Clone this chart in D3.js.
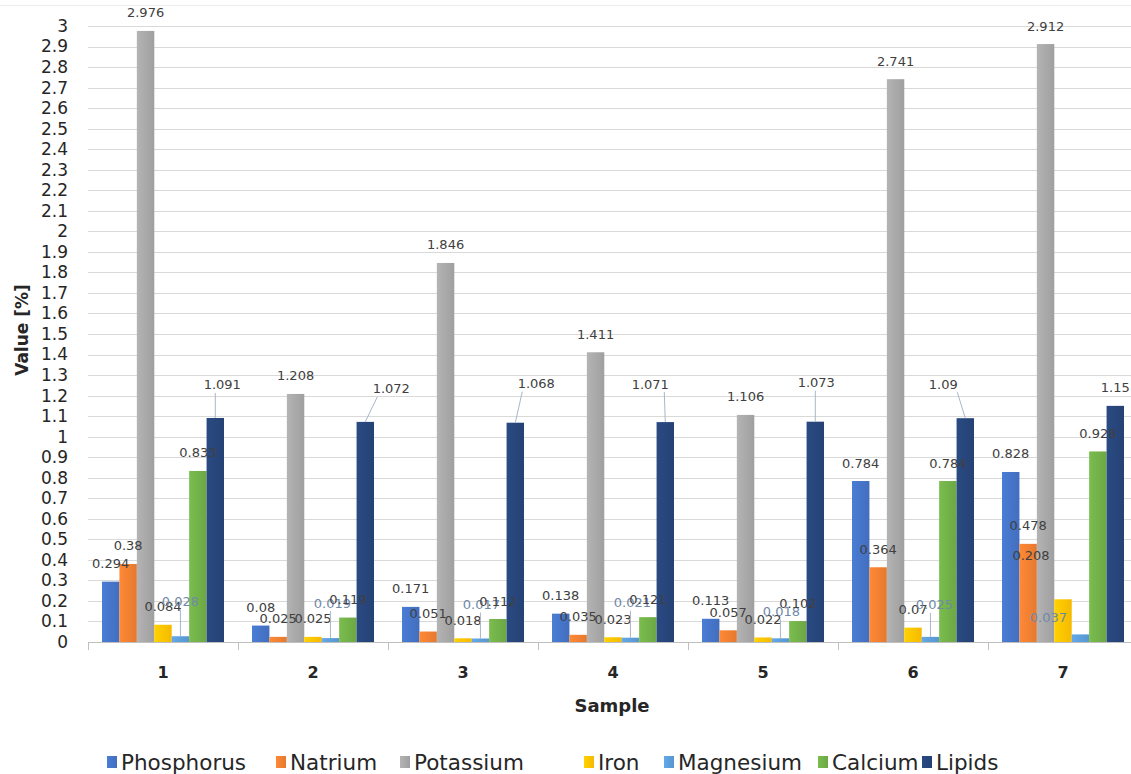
<!DOCTYPE html>
<html>
<head>
<meta charset="utf-8">
<script src="https://cdn.jsdelivr.net/npm/d3@7"></script>
<style>
  html, body { margin: 0; padding: 0; background: #fff; }
  svg { display: block; font-family: "DejaVu Sans", sans-serif; }
</style>
</head>
<body>
<svg id="chart" width="1131" height="774"></svg>
<script>
// Samples and measured contents (%)
const samples = ["1", "2", "3", "4", "5", "6", "7"];
const seriesNames = ["Phosphorus", "Natrium", "Potassium", "Iron", "Magnesium", "Calcium", "Lipids"];
const phosphorus = [0.294, 0.08, 0.171, 0.138, 0.113, 0.784, 0.828];
const natrium    = [0.38, 0.025, 0.051, 0.035, 0.057, 0.364, 0.478];
const potassium  = [2.976, 1.208, 1.846, 1.411, 1.106, 2.741, 2.912];
const iron       = [0.084, 0.025, 0.018, 0.023, 0.022, 0.07, 0.208];
const magnesium  = [0.028, 0.019, 0.017, 0.021, 0.018, 0.025, 0.037];
const calcium    = [0.833, 0.119, 0.112, 0.121, 0.102, 0.784, 0.928];
const lipids     = [1.091, 1.072, 1.068, 1.071, 1.073, 1.09, 1.15];
const yMax = 3;

const seriesValues = [phosphorus, natrium, potassium, iron, magnesium, calcium, lipids];
const colors = ["#4472C4", "#ED7D31", "#A5A5A5", "#FFC000", "#5B9BD5", "#70AD47", "#264478"];

// Labels moved off their default spot: [series, sample index, dx, dy, leader line]
const labelMoves = [
  [4, 0, 0, -35, true], [4, 1, 2, -35, true], [4, 2, 1, -34, true],
  [4, 3, 2, -35, true], [4, 4, 1, -27, true], [4, 5, 4, -32, true],
  [6, 0, 7, -33, true], [6, 1, 26, -33, true], [6, 2, 21, -39, true],
  [6, 3, -15, -38, true], [6, 4, 1, -39, true], [6, 5, -22, -34, true],
  [3, 6, -32, -44, false], [4, 6, -32, -17, false]
];

const svg = d3.select("#chart");
const W = 1131, H = 774;
const plot = { left: 88, right: 1138, top: 26, bottom: 642 };

svg.append("rect").attr("width", W).attr("height", H).attr("fill", "#fff");
svg.append("line").attr("x1", 0).attr("x2", W).attr("y1", 5.5).attr("y2", 5.5)
  .attr("stroke", "#ececec");

const x0 = d3.scaleBand().domain(samples).range([plot.left, plot.right]).padding(0);
const x1 = d3.scaleBand().domain(seriesNames).range([14, x0.bandwidth() - 14]).padding(0);
const y = d3.scaleLinear().domain([0, yMax]).range([plot.bottom, plot.top]);

// gradients for the bar fills
const defs = svg.append("defs");
seriesNames.forEach((s, i) => {
  const g = defs.append("linearGradient").attr("id", "grad" + i)
    .attr("x1", 0).attr("x2", 1).attr("y1", 0).attr("y2", 0);
  const c = d3.color(colors[i]);
  g.append("stop").attr("offset", "0%").attr("stop-color", c.brighter(0.25));
  g.append("stop").attr("offset", "100%").attr("stop-color", c.darker(0.1));
});

// horizontal gridlines
const yTicks = y.ticks(30);
svg.append("g").selectAll("line").data(yTicks.filter(d => d > 0)).join("line")
  .attr("x1", plot.left).attr("x2", plot.right)
  .attr("y1", d => Math.round(y(d)) + 0.5).attr("y2", d => Math.round(y(d)) + 0.5)
  .attr("stroke", "#d9d9d9").attr("stroke-width", 1);

// y axis labels
const yAxis = d3.axisLeft(y).tickValues(yTicks).tickFormat(d3.format("~g")).tickSize(0).tickPadding(0);
const yg = svg.append("g").attr("transform", `translate(${plot.left - 20},0)`).call(yAxis);
yg.select(".domain").remove();
yg.selectAll("text").attr("font-size", 17).attr("fill", "#262626")
  .attr("font-family", "DejaVu Sans, sans-serif");

// bars
const rows = [];
seriesNames.forEach((s, si) => {
  samples.forEach((smp, gi) => {
    rows.push({ s, si, gi, smp, v: seriesValues[si][gi] });
  });
});
svg.append("g").selectAll("rect").data(rows).join("rect")
  .attr("x", d => x0(d.smp) + x1(d.s))
  .attr("y", d => y(d.v))
  .attr("width", x1.bandwidth())
  .attr("height", d => y(0) - y(d.v))
  .attr("fill", d => `url(#grad${d.si})`);

// x axis line and ticks
const xAxisG = svg.append("g");
xAxisG.append("line").attr("x1", plot.left).attr("x2", plot.right)
  .attr("y1", plot.bottom + 0.5).attr("y2", plot.bottom + 0.5).attr("stroke", "#bfbfbf");
const bounds = samples.map(s => x0(s)).concat([plot.right]);
xAxisG.selectAll("line.tick").data(bounds).join("line").attr("class", "tick")
  .attr("x1", d => Math.round(d) + 0.5).attr("x2", d => Math.round(d) + 0.5)
  .attr("y1", plot.bottom).attr("y2", plot.bottom + 8).attr("stroke", "#bfbfbf");
xAxisG.selectAll("text").data(samples).join("text")
  .attr("x", d => x0(d) + x0.bandwidth() / 2)
  .attr("y", plot.bottom + 30)
  .attr("text-anchor", "middle").attr("dominant-baseline", "central")
  .attr("font-size", 16).attr("font-weight", "bold").attr("fill", "#262626")
  .text(d => d);

// value labels
const moveMap = new Map(labelMoves.map(m => [m[0] + "-" + m[1], m]));
const labelG = svg.append("g");
rows.forEach(d => {
  const cx = x0(d.smp) + x1(d.s) + x1.bandwidth() / 2;
  const top = y(d.v);
  const m = moveMap.get(d.si + "-" + d.gi);
  const lx = cx + (m ? m[2] : 0);
  const ly = top + (m ? m[3] : -18);
  const txt = d3.format("~g")(d.v);
  if (m && m[4]) {
    const half = 14;
    const sx = lx + Math.max(-half, Math.min(half, cx - lx));
    labelG.append("line")
      .attr("x1", sx).attr("y1", ly + 8)
      .attr("x2", cx).attr("y2", top)
      .attr("stroke", "#aab6c6").attr("stroke-width", 1);
  }
  labelG.append("text")
    .attr("x", lx).attr("y", ly)
    .attr("text-anchor", "middle").attr("dominant-baseline", "central")
    .attr("font-size", 13)
    .attr("fill", d.si === 4 ? "#7089a8" : "#404040")
    .text(txt);
});

// axis titles
svg.append("text")
  .attr("transform", "translate(22,330) rotate(-90)")
  .attr("text-anchor", "middle").attr("dominant-baseline", "central")
  .attr("font-size", 17).attr("font-weight", "bold").attr("fill", "#262626")
  .text("Value [%]");
svg.append("text")
  .attr("x", 612).attr("y", 705)
  .attr("text-anchor", "middle").attr("dominant-baseline", "central")
  .attr("font-size", 18).attr("font-weight", "bold").attr("fill", "#262626")
  .text("Sample");

// legend
const legendX = [107, 276, 400, 584, 664, 818, 922];
const lg = svg.append("g").selectAll("g").data(seriesNames).join("g")
  .attr("transform", (d, i) => `translate(${legendX[i]},762)`);
lg.append("rect").attr("x", 0).attr("y", -6).attr("width", 10).attr("height", 12)
  .attr("fill", (d, i) => `url(#grad${i})`);
lg.append("text").attr("x", 14).attr("y", 0)
  .attr("dominant-baseline", "central")
  .attr("font-size", 21.5).attr("fill", "#262626")
  .text(d => d);
</script>
</body>
</html>
